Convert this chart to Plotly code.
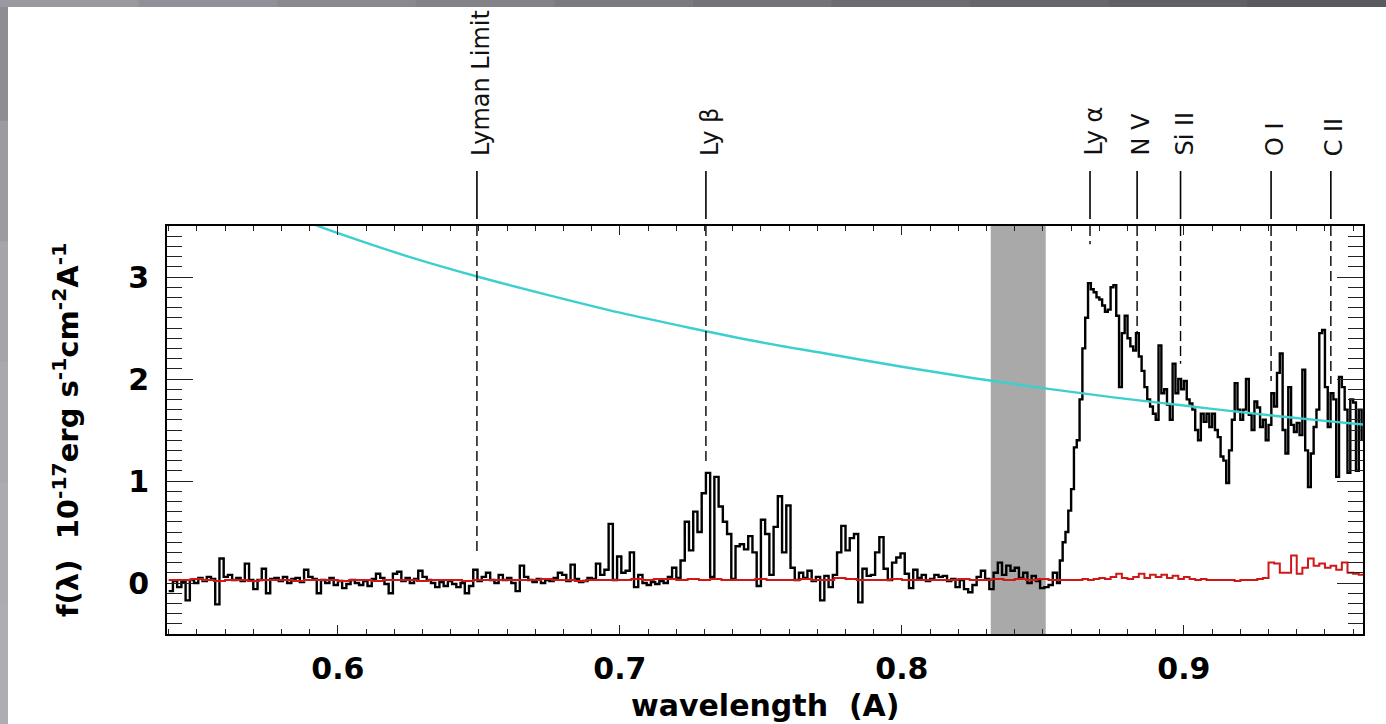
import numpy as np
import plotly.graph_objects as go

# ---------------- data ----------------
# observed spectrum (micron), blue part binned at 0.0015, red part at 0.001
flux_blue_start = 0.540
flux_blue_step = 0.0015
flux_blue = [
    -0.08, 0.02, -0.04, 0.01, -0.17, 0.03, 0.00, 0.05, 0.02, 0.06,
    0.04, -0.21, 0.24, 0.06, 0.08, 0.03, 0.05, 0.02, 0.19, 0.03,
    -0.06, 0.03, 0.14, -0.10, 0.04, 0.05, 0.02, 0.06, 0.00, 0.04,
    0.05, 0.01, 0.13, 0.06, 0.04, -0.10, 0.03, 0.00, 0.05, -0.02,
    0.02, -0.05, -0.01, 0.03, 0.00, -0.02, 0.02, -0.03, 0.04, 0.09,
    0.05, -0.01, -0.10, 0.09, 0.11, 0.02, 0.05, 0.00, 0.04, 0.12,
    0.06, 0.03, 0.00, -0.04, 0.01, -0.03, 0.02, -0.01, -0.04, 0.00,
    -0.10, -0.03, 0.13, 0.02, 0.06, 0.10, 0.03, 0.00, 0.08, 0.03,
    0.05, 0.00, -0.08, 0.17, 0.06, 0.03, 0.01, 0.04, 0.00, 0.03,
    0.02, 0.05, 0.10, 0.08, 0.02, 0.18, 0.04, 0.01, 0.02, 0.05,
    0.04, 0.19, 0.08, 0.13, 0.58, 0.03, 0.26, 0.10, 0.12, 0.30,
    -0.04, 0.08, 0.00, -0.02, 0.01, -0.01, 0.02, 0.00, 0.06, 0.15,
    0.05, 0.22, 0.60, 0.32, 0.70, 0.50, 0.88, 1.08, 0.06, 1.04,
    0.75, 0.60, 0.48, 0.04, 0.36, 0.38, 0.33, 0.46, 0.30, -0.03,
    0.62, 0.48, 0.08, 0.55, 0.85, 0.30, 0.76, 0.15, 0.03, 0.10,
    0.05, 0.12, 0.02, 0.06, -0.17, 0.07, -0.04, 0.08, 0.30, 0.56,
    0.32, 0.44, 0.48, -0.19, 0.14, 0.07, 0.08, 0.30, 0.45, 0.14,
    0.03, 0.20, 0.25, 0.29, 0.09, -0.05, 0.13, 0.05, 0.08, 0.02,
    0.04, 0.08, 0.06, 0.07, 0.02, 0.04, -0.04, 0.03, -0.06, -0.09,
    -0.02, 0.06, 0.12, 0.04, -0.06, 0.10, 0.20, 0.08, 0.17, 0.12,
    0.15, 0.05, 0.10, 0.00, 0.07, 0.02, -0.05, -0.04, -0.02, 0.10,
]
flux_red_start = 0.855
flux_red_step = 0.001
flux_red = [
    0.00, 0.22, 0.40, 0.50, 0.71, 0.92, 1.33, 1.40, 1.80, 2.30,
    2.60, 2.94, 2.88, 2.85, 2.80, 2.78, 2.72, 2.66, 2.68, 2.90,
    2.92, 2.62, 1.92, 2.45, 2.62, 2.40, 2.32, 2.28, 2.45, 2.22,
    2.08, 1.92, 1.80, 1.73, 1.66, 1.60, 2.33, 1.86, 1.90, 1.75,
    1.60, 2.15, 1.86, 2.00, 1.90, 1.98, 1.80, 1.76, 1.70, 1.50,
    1.40, 1.66, 1.58, 1.66, 1.53, 1.66, 1.50, 1.43, 1.24, 1.20,
    0.98, 1.30, 1.60, 1.96, 1.70, 1.60, 1.70, 2.00, 1.65, 1.50,
    1.78, 1.72, 1.53, 1.60, 1.40, 1.55, 1.86, 1.73, 2.06, 2.25,
    1.50, 1.27, 1.92, 1.55, 1.48, 1.57, 1.45, 2.09, 1.30, 0.94,
    1.27, 1.53, 1.70, 2.45, 2.48, 1.92, 1.53, 1.86, 1.80, 1.04,
    2.02, 1.92, 1.70, 1.08, 1.80, 1.77, 1.10, 1.70, 1.40,
]

# 1-sigma error spectrum
err_blue_start = 0.540
err_blue_step = 0.004
err_blue = [
    0.03, 0.03, 0.04, 0.03, 0.02, 0.03, 0.03, 0.02, 0.03, 0.03,
    0.03, 0.02, 0.03, 0.03, 0.03, 0.02, 0.03, 0.03, 0.02, 0.03,
    0.03, 0.03, 0.02, 0.03, 0.03, 0.03, 0.02, 0.03, 0.03, 0.03,
    0.03, 0.03, 0.03, 0.04, 0.03, 0.03, 0.02, 0.03, 0.03, 0.03,
    0.03, 0.04, 0.03, 0.04, 0.04, 0.03, 0.04, 0.03, 0.04, 0.03,
    0.03, 0.03, 0.04, 0.03, 0.03, 0.03, 0.04, 0.03, 0.03, 0.05,
    0.04, 0.03, 0.03, 0.03, 0.04, 0.03, 0.03, 0.03, 0.03, 0.03,
    0.04, 0.03, 0.03, 0.04, 0.03, 0.04, 0.03, 0.04, 0.03, 0.03,
]
err_red_start = 0.860
err_red_step = 0.002
err_red = [
    0.03, 0.03, 0.04, 0.03, 0.04, 0.05, 0.04, 0.06, 0.09, 0.05,
    0.04, 0.06, 0.09, 0.05, 0.08, 0.06, 0.08, 0.05, 0.07, 0.04,
    0.06, 0.04, 0.03, 0.04, 0.03, 0.03, 0.03, 0.03, 0.03, 0.02,
    0.03, 0.03, 0.03, 0.04, 0.05,
    0.20, 0.19, 0.10, 0.10, 0.27, 0.09, 0.15, 0.24, 0.17, 0.19,
    0.15, 0.17, 0.13, 0.20, 0.10, 0.09, 0.08, 0.08,
]

# continuum model
model_wave = [0.590, 0.600, 0.625, 0.650, 0.675, 0.700, 0.725, 0.750, 0.775,
              0.800, 0.825, 0.850, 0.875, 0.900, 0.925, 0.950, 0.965]
model_flux = [3.53, 3.43, 3.20, 3.00, 2.82, 2.65, 2.50, 2.36, 2.24,
              2.12, 2.01, 1.91, 1.82, 1.74, 1.66, 1.59, 1.55]

# redshifted line identifications: label, wavelength, lower end of the marker
line_labels = ["Lyman Limit", "Ly \u03b2", "Ly \u03b1", "N V", "Si II", "O I", "C II"]
line_waves = [0.6493, 0.7305, 0.8667, 0.8834, 0.8988, 0.9309, 0.9521]
line_ends = [0.30, 1.18, 3.32, 2.45, 2.15, 1.98, 1.95]

# masked region (sky band)
band_range = [0.8315, 0.8510]

x_range = [0.5394, 0.9635]
y_range = [-0.5, 3.5]
x_ticks = [0.6, 0.7, 0.8, 0.9]
y_ticks = [0, 1, 2, 3]

# ---------------- layout geometry ----------------
W, H = 1386, 724
ML, MR, MT, MB = 167, 23, 226, 90
PW, PH = W - ML - MR, H - MT - MB


def px_x(px):
    return (px - ML) / PW


def px_y(py):
    return (H - MB - py) / PH


def grid(start, step, values):
    return np.round(start + step * np.arange(len(values)), 5)


flux_wave = np.concatenate([grid(flux_blue_start, flux_blue_step, flux_blue),
                            grid(flux_red_start, flux_red_step, flux_red)])
flux = flux_blue + flux_red
err_wave = np.concatenate([grid(err_blue_start, err_blue_step, err_blue),
                           grid(err_red_start, err_red_step, err_red)])
err = err_blue + err_red

fig = go.Figure()
fig.add_trace(go.Scatter(x=flux_wave, y=flux, mode="lines", line_shape="hv",
                         line=dict(color="black", width=2.4), showlegend=False))
fig.add_trace(go.Scatter(x=model_wave, y=model_flux, mode="lines", line_shape="spline",
                         line=dict(color="#3ccfcf", width=2.4), showlegend=False))
fig.add_trace(go.Scatter(x=err_wave, y=err, mode="lines", line_shape="hv",
                         line=dict(color="#d01818", width=2), showlegend=False))

shapes = []
# shaded band
shapes.append(dict(type="rect", xref="x", yref="paper", x0=band_range[0], x1=band_range[1],
                   y0=0, y1=1, fillcolor="#a9a9a9", line=dict(width=0), layer="below"))

annotations = []
for lab, wv, yend in zip(line_labels, line_waves, line_ends):
    shapes.append(dict(type="line", xref="x", yref="y", x0=wv, x1=wv, y0=y_range[1], y1=yend,
                       line=dict(color="black", width=1.4, dash="10px,5px")))
    shapes.append(dict(type="line", xref="x", yref="paper", x0=wv, x1=wv,
                       y0=px_y(219), y1=px_y(171), line=dict(color="black", width=1.6)))
    annotations.append(dict(x=wv, y=px_y(158), xref="x", yref="paper", text=lab,
                            textangle=-90, showarrow=False, xanchor="center", yanchor="bottom",
                            xshift=4, font=dict(family="DejaVu Sans", size=24, color="#111")))

# grey frame along the top and left edges of the page
top_cols = ["#9a99a0", "#938f98", "#8a8990", "#838289", "#7b7a81", "#74737a",
            "#6d6c73", "#67666d", "#616067", "#5b5a61"]
seg = W / len(top_cols)
for i, c in enumerate(top_cols):
    shapes.append(dict(type="rect", xref="paper", yref="paper",
                       x0=px_x(i * seg), x1=px_x((i + 1) * seg + 1), y0=px_y(7), y1=px_y(0),
                       fillcolor=c, line=dict(width=0), layer="above"))
left_cols = ["#8e8d94", "#9c9ba2", "#a5a4ab", "#a9a8ae", "#acabb1", "#aeadb3"]
seg = H / len(left_cols)
for i, c in enumerate(left_cols):
    shapes.append(dict(type="rect", xref="paper", yref="paper",
                       x0=px_x(0), x1=px_x(8), y0=px_y((i + 1) * seg + 1), y1=px_y(max(i * seg, 7)),
                       fillcolor=c, line=dict(width=0), layer="above"))

# axis titles
annotations.append(dict(x=px_x(66), y=0.5, xref="paper", yref="paper",
                        text="f(\u03bb)  10<sup>-17</sup>erg s<sup>-1</sup>cm<sup>-2</sup>A<sup>-1</sup>",
                        textangle=-90, showarrow=False, xanchor="center", yanchor="middle",
                        font=dict(family="DejaVu Sans", size=29, color="black", weight="bold")))
annotations.append(dict(x=0.5, y=px_y(705), xref="paper", yref="paper",
                        text="wavelength  (A)", showarrow=False, xanchor="center", yanchor="middle",
                        font=dict(family="DejaVu Sans", size=30, color="black", weight="bold")))

tick_font = dict(family="DejaVu Sans", size=30, color="black", weight="bold")

fig.update_layout(
    width=W, height=H,
    margin=dict(l=ML, r=MR, t=MT, b=MB, pad=0),
    paper_bgcolor="white", plot_bgcolor="white",
    shapes=shapes, annotations=annotations,
    xaxis=dict(range=x_range, tickvals=x_ticks, ticktext=[f"{v:.1f}" for v in x_ticks],
               ticks="inside", ticklen=9, tickwidth=1.3, tickcolor="#222",
               minor=dict(dtick=0.01, tick0=0.0, ticks="inside", ticklen=5,
                          tickwidth=1.1, tickcolor="#222", showgrid=False),
               showline=True, linecolor="black", linewidth=1.6, mirror="allticks",
               showgrid=False, zeroline=False, tickfont=tick_font, ticklabelstandoff=7),
    yaxis=dict(range=y_range, tickvals=y_ticks, ticktext=[str(v) for v in y_ticks],
               ticks="inside", ticklen=26, tickwidth=1.3, tickcolor="#222",
               minor=dict(dtick=0.1, tick0=0.0, ticks="inside", ticklen=15,
                          tickwidth=1.1, tickcolor="#222", showgrid=False),
               showline=True, linecolor="black", linewidth=1.6, mirror="allticks",
               showgrid=False, zeroline=False, tickfont=tick_font, ticklabelstandoff=10),
)

fig.write_html("out.html")
